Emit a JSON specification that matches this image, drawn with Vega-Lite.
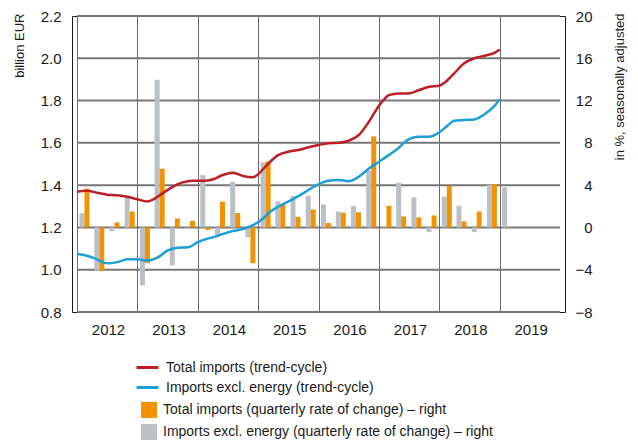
{
  "$schema": "https://vega.github.io/schema/vega-lite/v6.json",
  "width": 493,
  "height": 296,
  "autosize": {"type": "none"},
  "padding": {"left": 72, "top": 16, "right": 73, "bottom": 131},
  "background": "white",
  "config": {
    "font": "Liberation Sans",
    "view": {"stroke": "#1a1a1a", "strokeWidth": 1},
    "axis": {
      "labelFontSize": 15,
      "labelColor": "#1a1a1a",
      "titleColor": "#1a1a1a",
      "titleFontSize": 13,
      "titleFontWeight": "normal",
      "gridColor": "#6b6b6b",
      "gridWidth": 1,
      "gridOpacity": 1,
      "ticks": false,
      "domain": false
    },
    "legend": {
      "labelFontSize": 14,
      "labelColor": "#1a1a1a",
      "labelLimit": 600
    }
  },
  "datasets": {
    "gridlines": [
      {"level": 0.8}, {"level": 1.0}, {"level": 1.2}, {"level": 1.4},
      {"level": 1.6}, {"level": 1.8}, {"level": 2.0}, {"level": 2.2}
    ],
    "lines": [
      {"date": "2012-01-01", "series": "Total imports (trend-cycle)", "value": 1.369},
      {"date": "2012-03-01", "series": "Total imports (trend-cycle)", "value": 1.374},
      {"date": "2012-05-01", "series": "Total imports (trend-cycle)", "value": 1.364},
      {"date": "2012-07-01", "series": "Total imports (trend-cycle)", "value": 1.355},
      {"date": "2012-09-01", "series": "Total imports (trend-cycle)", "value": 1.352},
      {"date": "2012-11-01", "series": "Total imports (trend-cycle)", "value": 1.345},
      {"date": "2013-01-01", "series": "Total imports (trend-cycle)", "value": 1.333},
      {"date": "2013-03-01", "series": "Total imports (trend-cycle)", "value": 1.323},
      {"date": "2013-04-01", "series": "Total imports (trend-cycle)", "value": 1.330},
      {"date": "2013-06-01", "series": "Total imports (trend-cycle)", "value": 1.361},
      {"date": "2013-08-01", "series": "Total imports (trend-cycle)", "value": 1.392},
      {"date": "2013-10-01", "series": "Total imports (trend-cycle)", "value": 1.413},
      {"date": "2013-12-01", "series": "Total imports (trend-cycle)", "value": 1.421},
      {"date": "2014-02-01", "series": "Total imports (trend-cycle)", "value": 1.421},
      {"date": "2014-04-01", "series": "Total imports (trend-cycle)", "value": 1.427},
      {"date": "2014-06-01", "series": "Total imports (trend-cycle)", "value": 1.448},
      {"date": "2014-08-01", "series": "Total imports (trend-cycle)", "value": 1.459},
      {"date": "2014-10-01", "series": "Total imports (trend-cycle)", "value": 1.443},
      {"date": "2014-12-01", "series": "Total imports (trend-cycle)", "value": 1.437},
      {"date": "2015-01-01", "series": "Total imports (trend-cycle)", "value": 1.452},
      {"date": "2015-03-01", "series": "Total imports (trend-cycle)", "value": 1.500},
      {"date": "2015-05-01", "series": "Total imports (trend-cycle)", "value": 1.542},
      {"date": "2015-07-01", "series": "Total imports (trend-cycle)", "value": 1.558},
      {"date": "2015-09-01", "series": "Total imports (trend-cycle)", "value": 1.566},
      {"date": "2015-11-01", "series": "Total imports (trend-cycle)", "value": 1.579},
      {"date": "2016-01-01", "series": "Total imports (trend-cycle)", "value": 1.590},
      {"date": "2016-03-01", "series": "Total imports (trend-cycle)", "value": 1.598},
      {"date": "2016-05-01", "series": "Total imports (trend-cycle)", "value": 1.600},
      {"date": "2016-07-01", "series": "Total imports (trend-cycle)", "value": 1.610},
      {"date": "2016-09-01", "series": "Total imports (trend-cycle)", "value": 1.637},
      {"date": "2016-11-01", "series": "Total imports (trend-cycle)", "value": 1.700},
      {"date": "2017-01-01", "series": "Total imports (trend-cycle)", "value": 1.776},
      {"date": "2017-02-01", "series": "Total imports (trend-cycle)", "value": 1.805},
      {"date": "2017-03-01", "series": "Total imports (trend-cycle)", "value": 1.826},
      {"date": "2017-05-01", "series": "Total imports (trend-cycle)", "value": 1.834},
      {"date": "2017-07-01", "series": "Total imports (trend-cycle)", "value": 1.834},
      {"date": "2017-09-01", "series": "Total imports (trend-cycle)", "value": 1.850},
      {"date": "2017-11-01", "series": "Total imports (trend-cycle)", "value": 1.865},
      {"date": "2018-01-01", "series": "Total imports (trend-cycle)", "value": 1.870},
      {"date": "2018-02-01", "series": "Total imports (trend-cycle)", "value": 1.884},
      {"date": "2018-04-01", "series": "Total imports (trend-cycle)", "value": 1.929},
      {"date": "2018-06-01", "series": "Total imports (trend-cycle)", "value": 1.976},
      {"date": "2018-08-01", "series": "Total imports (trend-cycle)", "value": 2.000},
      {"date": "2018-10-01", "series": "Total imports (trend-cycle)", "value": 2.012},
      {"date": "2018-12-01", "series": "Total imports (trend-cycle)", "value": 2.026},
      {"date": "2019-01-01", "series": "Total imports (trend-cycle)", "value": 2.042},
      {"date": "2012-01-01", "series": "Imports excl. energy (trend-cycle)", "value": 1.074},
      {"date": "2012-03-01", "series": "Imports excl. energy (trend-cycle)", "value": 1.066},
      {"date": "2012-05-01", "series": "Imports excl. energy (trend-cycle)", "value": 1.049},
      {"date": "2012-07-01", "series": "Imports excl. energy (trend-cycle)", "value": 1.030},
      {"date": "2012-09-01", "series": "Imports excl. energy (trend-cycle)", "value": 1.036},
      {"date": "2012-11-01", "series": "Imports excl. energy (trend-cycle)", "value": 1.049},
      {"date": "2013-01-01", "series": "Imports excl. energy (trend-cycle)", "value": 1.049},
      {"date": "2013-03-01", "series": "Imports excl. energy (trend-cycle)", "value": 1.043},
      {"date": "2013-05-01", "series": "Imports excl. energy (trend-cycle)", "value": 1.057},
      {"date": "2013-07-01", "series": "Imports excl. energy (trend-cycle)", "value": 1.090},
      {"date": "2013-09-01", "series": "Imports excl. energy (trend-cycle)", "value": 1.104},
      {"date": "2013-11-01", "series": "Imports excl. energy (trend-cycle)", "value": 1.106},
      {"date": "2014-01-01", "series": "Imports excl. energy (trend-cycle)", "value": 1.130},
      {"date": "2014-03-01", "series": "Imports excl. energy (trend-cycle)", "value": 1.147},
      {"date": "2014-04-01", "series": "Imports excl. energy (trend-cycle)", "value": 1.153},
      {"date": "2014-06-01", "series": "Imports excl. energy (trend-cycle)", "value": 1.169},
      {"date": "2014-08-01", "series": "Imports excl. energy (trend-cycle)", "value": 1.183},
      {"date": "2014-10-01", "series": "Imports excl. energy (trend-cycle)", "value": 1.192},
      {"date": "2014-12-01", "series": "Imports excl. energy (trend-cycle)", "value": 1.211},
      {"date": "2015-02-01", "series": "Imports excl. energy (trend-cycle)", "value": 1.243},
      {"date": "2015-03-01", "series": "Imports excl. energy (trend-cycle)", "value": 1.265},
      {"date": "2015-05-01", "series": "Imports excl. energy (trend-cycle)", "value": 1.298},
      {"date": "2015-07-01", "series": "Imports excl. energy (trend-cycle)", "value": 1.322},
      {"date": "2015-09-01", "series": "Imports excl. energy (trend-cycle)", "value": 1.348},
      {"date": "2015-11-01", "series": "Imports excl. energy (trend-cycle)", "value": 1.377},
      {"date": "2016-01-01", "series": "Imports excl. energy (trend-cycle)", "value": 1.404},
      {"date": "2016-03-01", "series": "Imports excl. energy (trend-cycle)", "value": 1.421},
      {"date": "2016-05-01", "series": "Imports excl. energy (trend-cycle)", "value": 1.424},
      {"date": "2016-07-01", "series": "Imports excl. energy (trend-cycle)", "value": 1.419},
      {"date": "2016-09-01", "series": "Imports excl. energy (trend-cycle)", "value": 1.440},
      {"date": "2016-11-01", "series": "Imports excl. energy (trend-cycle)", "value": 1.479},
      {"date": "2017-01-01", "series": "Imports excl. energy (trend-cycle)", "value": 1.511},
      {"date": "2017-03-01", "series": "Imports excl. energy (trend-cycle)", "value": 1.542},
      {"date": "2017-05-01", "series": "Imports excl. energy (trend-cycle)", "value": 1.577},
      {"date": "2017-07-01", "series": "Imports excl. energy (trend-cycle)", "value": 1.618},
      {"date": "2017-09-01", "series": "Imports excl. energy (trend-cycle)", "value": 1.629},
      {"date": "2017-11-01", "series": "Imports excl. energy (trend-cycle)", "value": 1.629},
      {"date": "2018-01-01", "series": "Imports excl. energy (trend-cycle)", "value": 1.650},
      {"date": "2018-03-01", "series": "Imports excl. energy (trend-cycle)", "value": 1.688},
      {"date": "2018-04-01", "series": "Imports excl. energy (trend-cycle)", "value": 1.705},
      {"date": "2018-06-01", "series": "Imports excl. energy (trend-cycle)", "value": 1.708},
      {"date": "2018-08-01", "series": "Imports excl. energy (trend-cycle)", "value": 1.711},
      {"date": "2018-10-01", "series": "Imports excl. energy (trend-cycle)", "value": 1.735},
      {"date": "2018-12-01", "series": "Imports excl. energy (trend-cycle)", "value": 1.775},
      {"date": "2019-01-01", "series": "Imports excl. energy (trend-cycle)", "value": 1.806}
    ],
    "bars": [
      {"quarter": "2012-02-15", "excl": 1.36, "total": 3.66},
      {"quarter": "2012-05-15", "excl": -4.07, "total": -4.13},
      {"quarter": "2012-08-15", "excl": -0.35, "total": 0.47},
      {"quarter": "2012-11-15", "excl": 3.0, "total": 1.51},
      {"quarter": "2013-02-15", "excl": -5.49, "total": -3.38},
      {"quarter": "2013-05-15", "excl": 13.97, "total": 5.55},
      {"quarter": "2013-08-15", "excl": -3.6, "total": 0.84},
      {"quarter": "2013-11-15", "excl": 0.05, "total": 0.63},
      {"quarter": "2014-02-15", "excl": 4.95, "total": -0.25},
      {"quarter": "2014-05-15", "excl": -0.91, "total": 2.43},
      {"quarter": "2014-08-15", "excl": 4.32, "total": 1.36},
      {"quarter": "2014-11-15", "excl": -0.95, "total": -3.38},
      {"quarter": "2015-02-15", "excl": 6.15, "total": 6.25},
      {"quarter": "2015-05-15", "excl": 2.46, "total": 2.15},
      {"quarter": "2015-08-15", "excl": 2.97, "total": 1.0},
      {"quarter": "2015-11-15", "excl": 3.0, "total": 1.69},
      {"quarter": "2016-02-15", "excl": 2.18, "total": 0.41},
      {"quarter": "2016-05-15", "excl": 1.51, "total": 1.39},
      {"quarter": "2016-08-15", "excl": 2.02, "total": 1.42},
      {"quarter": "2016-11-15", "excl": 5.39, "total": 8.61},
      {"quarter": "2017-02-15", "excl": 0.05, "total": 2.05},
      {"quarter": "2017-05-15", "excl": 4.23, "total": 1.04},
      {"quarter": "2017-08-15", "excl": 2.84, "total": 0.95},
      {"quarter": "2017-11-15", "excl": -0.44, "total": 1.14},
      {"quarter": "2018-02-15", "excl": 2.9, "total": 3.94},
      {"quarter": "2018-05-15", "excl": 2.05, "total": 0.57},
      {"quarter": "2018-08-15", "excl": -0.44, "total": 1.51},
      {"quarter": "2018-11-15", "excl": 4.04, "total": 4.07},
      {"quarter": "2019-02-15", "excl": 3.79, "total": 0.05}
    ]
  },
  "layer": [
    {
      "data": {"name": "gridlines"},
      "mark": {"type": "rule", "stroke": "#777777", "strokeWidth": 2},
      "encoding": {
        "x": {
          "datum": {"year": 2012, "month": 1, "date": 1},
          "type": "temporal",
          "scale": {"domain": [{"year": 2012, "month": 1, "date": 1}, {"year": 2020, "month": 1, "date": 1}], "nice": false},
          "axis": {
            "title": null,
            "grid": true,
            "values": [
              {"year": 2012, "month": 1, "date": 1},
              {"year": 2013, "month": 1, "date": 1},
              {"year": 2014, "month": 1, "date": 1},
              {"year": 2015, "month": 1, "date": 1},
              {"year": 2016, "month": 1, "date": 1},
              {"year": 2017, "month": 1, "date": 1},
              {"year": 2018, "month": 1, "date": 1},
              {"year": 2019, "month": 1, "date": 1}
            ],
            "format": "%Y",
            "labelOffset": 31,
            "labelPadding": 10,
            "labelAlign": "center"
          }
        },
        "x2": {"datum": {"year": 2020, "month": 1, "date": 1}},
        "y": {
          "field": "level",
          "type": "quantitative",
          "scale": {"domain": [0.8, 2.2], "nice": false, "zero": false},
          "axis": {
            "orient": "left",
            "grid": false,
            "values": [0.8, 1.0, 1.2, 1.4, 1.6, 1.8, 2.0, 2.2],
            "format": ".1f",
            "labelPadding": 11,
            "title": "billion EUR",
            "titleAngle": 270,
            "titleAlign": "right",
            "titleBaseline": "middle",
            "titleX": -53,
            "titleY": -3
          }
        }
      }
    },
    {
      "layer": [
        {
          "data": {"name": "bars"},
          "transform": [{"fold": ["excl"], "as": ["series_key", "rate"]}, {"lookup": "series_key", "from": {"data": {"values": [{"series_key": "excl", "series": "Imports excl. energy (quarterly rate of change) – right"}]}, "key": "series_key", "fields": ["series"]}}],
          "mark": {"type": "bar", "width": 5, "xOffset": -2.5},
          "encoding": {
            "x": {"field": "quarter", "type": "temporal"},
            "y": {
              "field": "rate",
              "type": "quantitative",
              "scale": {"domain": [-8, 20], "nice": false, "zero": false},
              "axis": {
                "orient": "right",
                "values": [-8, -4, 0, 4, 8, 12, 16, 20],
                "grid": false,
                "labelAlign": "right",
                "labelPadding": 27,
                "title": "in %, seasonally adjusted",
                "titleAngle": 270,
                "titleAlign": "right",
                "titleBaseline": "middle",
                "titleX": 54,
                "titleY": -3
              }
            },
            "fill": {
              "field": "series",
              "type": "nominal",
              "scale": {
                "domain": ["Total imports (quarterly rate of change) – right", "Imports excl. energy (quarterly rate of change) – right"],
                "range": ["#f39200", "#b9c1c7"]
              },
              "legend": {
                "title": null,
                "orient": "none",
                "legendX": 69,
                "legendY": 386,
                "direction": "vertical",
                "symbolType": "square",
                "symbolSize": 256,
                "symbolStrokeWidth": 0,
                "symbolOpacity": 1,
                "labelOffset": 6,
                "rowPadding": 6
              }
            }
          }
        },
        {
          "data": {"name": "bars"},
          "transform": [{"fold": ["total"], "as": ["series_key", "rate"]}, {"lookup": "series_key", "from": {"data": {"values": [{"series_key": "total", "series": "Total imports (quarterly rate of change) – right"}]}, "key": "series_key", "fields": ["series"]}}],
          "mark": {"type": "bar", "width": 5, "xOffset": 2.5},
          "encoding": {
            "x": {"field": "quarter", "type": "temporal"},
            "y": {"field": "rate", "type": "quantitative"},
            "fill": {"field": "series", "type": "nominal"}
          }
        }
      ]
    },
    {
      "data": {"name": "lines"},
      "mark": {"type": "line", "interpolate": "monotone", "strokeWidth": 2.5},
      "encoding": {
        "x": {"field": "date", "type": "temporal"},
        "y": {"field": "value", "type": "quantitative", "scale": {"domain": [0.8, 2.2], "nice": false, "zero": false}, "axis": null},
        "stroke": {
          "field": "series",
          "type": "nominal",
          "scale": {
            "domain": ["Total imports (trend-cycle)", "Imports excl. energy (trend-cycle)"],
            "range": ["#bd1e24", "#1a9fdb"]
          },
          "legend": {
            "title": null,
            "orient": "none",
            "legendX": 63,
            "legendY": 339,
            "direction": "vertical",
            "symbolType": "stroke",
            "symbolSize": 484,
            "symbolStrokeWidth": 3,
            "symbolOpacity": 1,
            "labelOffset": 6,
            "rowPadding": 0
          }
        }
      }
    }
  ],
  "resolve": {"scale": {"y": "independent"}}
}
